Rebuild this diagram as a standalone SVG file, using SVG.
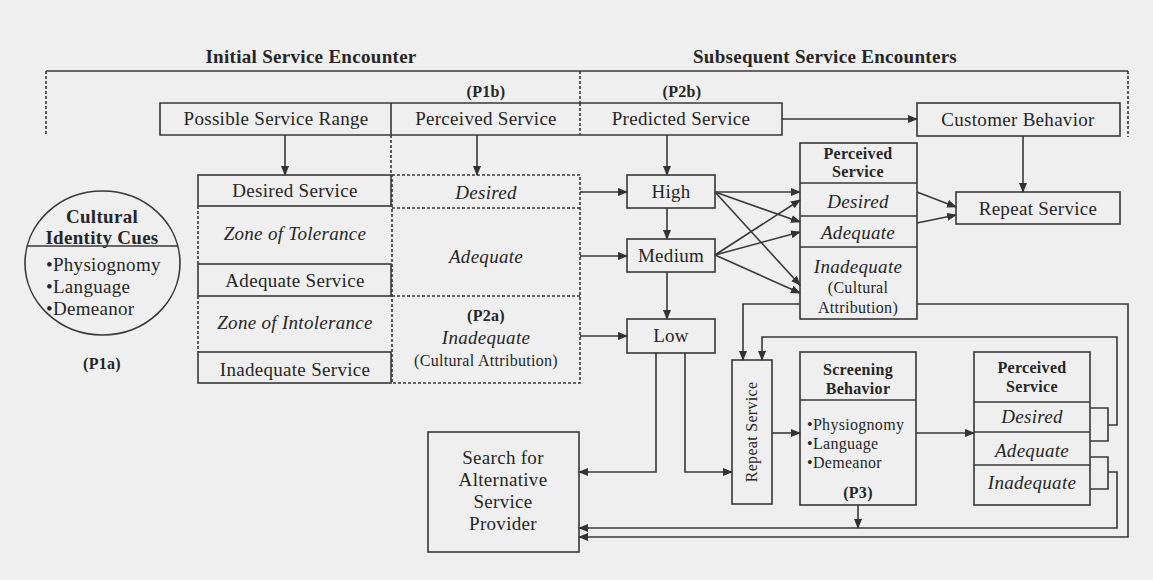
<svg xmlns="http://www.w3.org/2000/svg" width="1153" height="580" viewBox="0 0 1153 580">
<defs>
  <marker id="ah" markerUnits="userSpaceOnUse" markerWidth="10" markerHeight="8" refX="9" refY="4" orient="auto">
    <path d="M0,0 L10,4 L0,8 z" fill="#333"/>
  </marker>
</defs>
<style>
  text { font-family: "Liberation Serif", "Times New Roman", serif; fill: #262626; font-size: 19px; text-anchor: middle; letter-spacing: 0.3px; }
  .i { font-style: italic; }
  .b { font-weight: bold; }
  .s { font-size: 16px; }
  .m { font-size: 16px; }
  .l { text-anchor: start; }
  .box { fill: none; stroke: #383838; stroke-width: 1.6; }
  .dot { fill: none; stroke: #383838; stroke-width: 1.6; stroke-dasharray: 3 2; }
  .ln { fill: none; stroke: #383838; stroke-width: 1.6; }
  .arr { marker-end: url(#ah); }
</style>
<rect width="1153" height="580" fill="#efefef"/>

<!-- phase bracket and headings -->
<g id="phases">
  <text class="b" x="311" y="63">Initial Service Encounter</text>
  <text class="b" x="825" y="63">Subsequent Service Encounters</text>
  <path class="ln" d="M46,71 H1128"/>
  <path class="dot" d="M46,71 V135 M1128,71 V137 M580,71 V103"/>
  <text class="b s" x="486" y="97">(P1b)</text>
  <text class="b s" x="682" y="97">(P2b)</text>
</g>

<!-- top row -->
<g id="service-range-row">
  <path class="box" d="M391,103 H160 V135 H391 Z M391,103 H782 V135 H391"/>
  <path class="dot" d="M580,103 V135"/>
  <text x="276" y="125">Possible Service Range</text>
  <text x="486" y="125">Perceived Service</text>
  <text x="681" y="125">Predicted Service</text>
</g>

<g id="customer-behavior">
  <rect class="box" x="917" y="103" width="203" height="33"/>
  <text x="1018" y="126">Customer Behavior</text>
</g>

<!-- cultural identity cues -->
<g id="cultural-identity-cues">
  <ellipse class="box" cx="102.5" cy="263" rx="77.5" ry="72"/>
  <path class="ln" d="M27,246 H178"/>
  <text class="b" x="102" y="223">Cultural</text>
  <text class="b" x="102" y="244">Identity Cues</text>
  <text class="l" x="46" y="271">•Physiognomy</text>
  <text class="l" x="46" y="293">•Language</text>
  <text class="l" x="46" y="315">•Demeanor</text>
  <text class="b s" x="102" y="369">(P1a)</text>
</g>

<!-- expectation levels -->
<g id="expectation-levels">
  <rect class="box" x="198" y="175" width="193" height="31"/>
  <rect class="box" x="198" y="264" width="193" height="32"/>
  <rect class="box" x="198" y="352" width="193" height="31"/>
  <path class="dot" d="M198,206 V264 M198,296 V352 M391,135 V175"/>
  <text x="295" y="197">Desired Service</text>
  <text class="i" x="295" y="240">Zone of Tolerance</text>
  <text x="295" y="287">Adequate Service</text>
  <text class="i" x="295" y="329">Zone of Intolerance</text>
  <text x="295" y="376">Inadequate Service</text>
</g>

<!-- perceived service, initial encounter -->
<g id="perceived-initial">
  <rect class="dot" x="392" y="175" width="188" height="208"/>
  <path class="dot" d="M392,208 H580 M392,296 H580"/>
  <text class="i" x="486" y="199">Desired</text>
  <text class="i" x="486" y="263">Adequate</text>
  <text class="b s" x="486" y="321">(P2a)</text>
  <text class="i" x="486" y="344">Inadequate</text>
  <text class="s" x="486" y="366">(Cultural Attribution)</text>
</g>

<g id="high">
  <rect class="box" x="627" y="175" width="88" height="33"/>
  <text x="671" y="198">High</text>
</g>
<g id="medium">
  <rect class="box" x="627" y="239" width="88" height="33"/>
  <text x="671" y="262">Medium</text>
</g>
<g id="low">
  <rect class="box" x="627" y="319" width="88" height="34"/>
  <text x="671" y="342">Low</text>
</g>

<!-- perceived service, subsequent encounter -->
<g id="perceived-subsequent">
  <rect class="box" x="800" y="143" width="117" height="176"/>
  <path class="ln" d="M800,183 H917 M800,216 H917 M800,247 H917"/>
  <text class="b m" x="858" y="159">Perceived</text>
  <text class="b m" x="858" y="177">Service</text>
  <text class="i" x="858" y="208">Desired</text>
  <text class="i" x="858" y="239">Adequate</text>
  <text class="i" x="858" y="273">Inadequate</text>
  <text class="s" x="858" y="293">(Cultural</text>
  <text class="s" x="858" y="313">Attribution)</text>
</g>

<g id="repeat-service">
  <rect class="box" x="956" y="192" width="164" height="32"/>
  <text x="1038" y="215">Repeat Service</text>
</g>

<g id="repeat-service-vertical">
  <rect class="box" x="732" y="360" width="40" height="144"/>
  <text class="s" transform="translate(757,432) rotate(-90)">Repeat Service</text>
</g>

<g id="screening-behavior">
  <rect class="box" x="800" y="352" width="116" height="153"/>
  <path class="ln" d="M800,400 H916"/>
  <text class="b m" x="858" y="375">Screening</text>
  <text class="b m" x="858" y="394">Behavior</text>
  <text class="s l" x="807" y="430">•Physiognomy</text>
  <text class="s l" x="807" y="449">•Language</text>
  <text class="s l" x="807" y="468">•Demeanor</text>
  <text class="b s" x="858" y="498">(P3)</text>
</g>

<g id="perceived-screened">
  <rect class="box" x="974" y="352" width="116" height="153"/>
  <path class="ln" d="M974,402 H1090 M974,432 H1090 M974,465 H1090"/>
  <text class="b m" x="1032" y="373">Perceived</text>
  <text class="b m" x="1032" y="392">Service</text>
  <text class="i" x="1032" y="423">Desired</text>
  <text class="i" x="1032" y="457">Adequate</text>
  <text class="i" x="1032" y="489">Inadequate</text>
</g>

<g id="search-alternative">
  <rect class="box" x="428" y="432" width="151" height="120"/>
  <text x="503" y="464">Search for</text>
  <text x="503" y="486">Alternative</text>
  <text x="503" y="508">Service</text>
  <text x="503" y="530">Provider</text>
</g>

<!-- connectors -->
<g id="connectors">
  <path class="ln arr" d="M285,135 V175"/>
  <path class="ln arr" d="M477,135 V175"/>
  <path class="ln arr" d="M667,135 V175"/>
  <path class="ln arr" d="M782,119 H917"/>
  <path class="ln arr" d="M1023,136 V192"/>
  <path class="ln arr" d="M580,192 H627"/>
  <path class="ln arr" d="M580,256 H627"/>
  <path class="ln arr" d="M580,336 H627"/>
  <path class="ln arr" d="M667,208 V239"/>
  <path class="ln arr" d="M667,272 V319"/>
  <path class="ln arr" d="M715,192 L800,192"/>
  <path class="ln arr" d="M715,192 L800,222"/>
  <path class="ln arr" d="M715,192 L800,285"/>
  <path class="ln arr" d="M715,255 L800,200"/>
  <path class="ln arr" d="M715,255 L800,232"/>
  <path class="ln arr" d="M715,255 L800,293"/>
  <path class="ln arr" d="M917,192 L956,207"/>
  <path class="ln arr" d="M917,223 L956,215"/>
  <path class="ln arr" d="M656,353 V472 H579"/>
  <path class="ln arr" d="M685,353 V472 H732"/>
  <path class="ln arr" d="M800,304 H743 V360"/>
  <path class="ln arr" d="M917,304 H1128 V537 H579"/>
  <path class="ln" d="M1090,408 H1108 V441 H1090"/>
  <path class="ln arr" d="M1108,425 H1117 V337 H762 V360"/>
  <path class="ln" d="M1090,457 H1108 V489 H1090"/>
  <path class="ln arr" d="M1108,472 H1117 V528 H579"/>
  <path class="ln arr" d="M772,433 H800"/>
  <path class="ln arr" d="M916,433 H974"/>
  <path class="ln arr" d="M858,505 V528"/>
</g>
</svg>
